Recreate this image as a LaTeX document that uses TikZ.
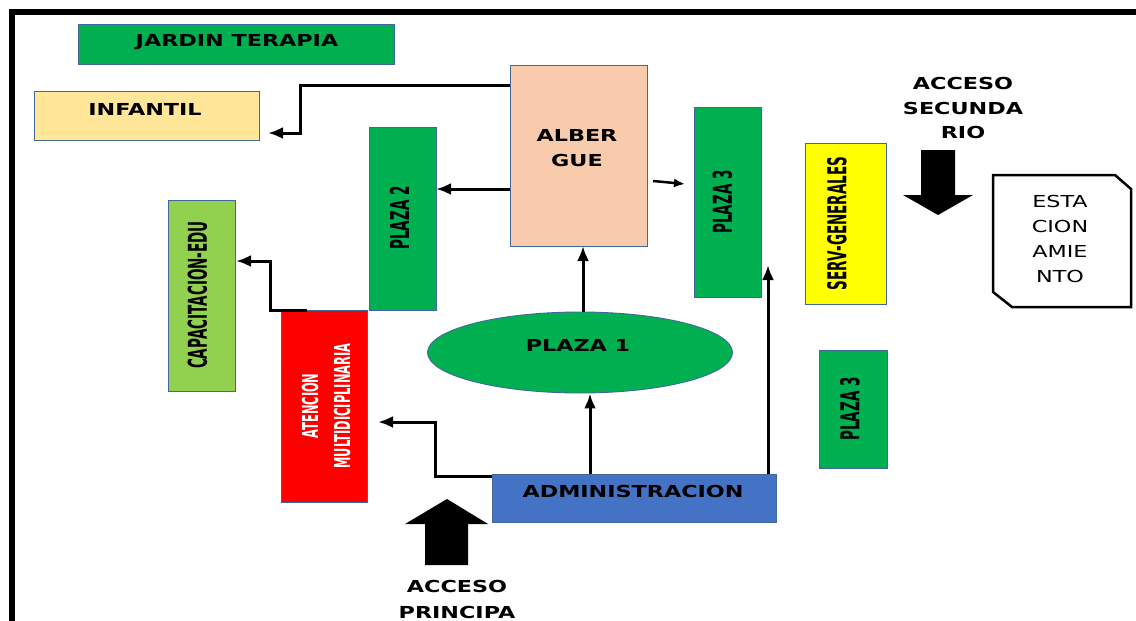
\documentclass[tikz,border=0pt]{standalone}
\usepackage{fontspec}
\setmainfont{DejaVu Sans}
\newfontfamily\widef[FakeStretch=1.35]{DejaVu Sans}
\newfontfamily\condf[FakeStretch=0.52]{DejaVu Sans}
\usetikzlibrary{arrows.meta,calc,shapes.geometric}
\definecolor{gr}{HTML}{00B050}
\definecolor{lgr}{HTML}{92D050}
\definecolor{peach}{HTML}{F8CBAD}
\definecolor{lyel}{HTML}{FFE699}
\definecolor{yel}{HTML}{FFFF00}
\definecolor{rd}{HTML}{FF0000}
\definecolor{admblue}{HTML}{4472C4}
\definecolor{bordc}{HTML}{41679E}
\begin{document}
\begin{tikzpicture}[x=1pt,y=-1pt,
  box/.style={draw=bordc,line width=0.9pt,rectangle,inner sep=0pt,outer sep=0pt},
  wl/.style={font=\widef\bfseries\fontsize{16.5}{24.5}\selectfont,align=center,inner sep=0pt},
  cl/.style={font=\condf\bfseries\fontsize{26}{32}\selectfont,rotate=90,align=center,inner sep=0pt},
  conn/.style={line width=3pt,-{Latex[length=15pt,width=12pt]}},
  bigarrow/.style={fill=black}]
\clip (0,0) rectangle (1136,621);
\fill[white] (0,0) rectangle (1136,621);
% outer border
\draw[line width=5.5pt] (12,640) -- (12,12) -- (1145,12);

% boxes
\node[box,fill=gr,minimum width=316,minimum height=40] (jar) at (236,44) {};
\node[box,fill=lyel,minimum width=225,minimum height=49] (inf) at (146.5,115.5) {};
\node[box,fill=peach,minimum width=137,minimum height=181] (alb) at (578.5,155.5) {};
\node[box,fill=gr,minimum width=67,minimum height=183] (p2) at (402.5,218.5) {};
\node[box,fill=gr,minimum width=67,minimum height=190] (p3) at (727.5,202) {};
\node[box,fill=yel,minimum width=81,minimum height=161] (serv) at (845.5,223.5) {};
\node[box,fill=lgr,minimum width=67,minimum height=191] (cap) at (201.5,295.5) {};
\node[box,fill=rd,minimum width=86,minimum height=192] (att) at (324,406) {};
\node[ellipse,draw=bordc,line width=0.9pt,fill=gr,minimum width=305,minimum height=81,inner sep=0pt] (p1) at (580,352.5) {};
\node[box,fill=admblue,minimum width=284,minimum height=48] (adm) at (634,498) {};
\node[box,fill=gr,minimum width=68,minimum height=118] (p3b) at (853,409) {};
\draw[line width=2.5pt,fill=white,line join=miter] (993,175) -- (1115,175) -- (1131,189) -- (1131,307) -- (1012,307) -- (993,292) -- cycle;

% texts
\node[wl] (jart) at (237,42) {JARDIN TERAPIA};
\node[wl] (inft) at (145,109) {INFANTIL};
\node[wl] (albt) at (577,148) {ALBER\\GUE};
\node[cl] (p2t) at (399.5,218) {PLAZA 2};
\node[cl] (p3t) at (722.5,202) {PLAZA 3};
\node[cl] (servt) at (837,223.5) {SERV-GENERALES};
\node[cl] (capt) at (197.5,295) {CAPACITACION-EDU};
\node[cl,font=\condf\bfseries\fontsize{22}{32}\selectfont,text=white] (attt) at (326,406) {ATENCION\\MULTIDICIPLINARIA};
\node[wl] (p1t) at (578,345) {PLAZA 1};
\node[wl] (admt) at (633,491) {ADMINISTRACION};
\node[cl] (p3bt) at (850,409) {PLAZA 3};
\node[wl] (acst) at (963,108) {ACCESO\\SECUNDA\\RIO};
\node[wl,font=\widef\bfseries\fontsize{16.5}{26}\selectfont] (acpt) at (457,599) {ACCESO\\PRINCIPA};
\node[wl,font=\widef\fontsize{16.5}{25}\selectfont] (estt) at (1060,238.5) {ESTA\\CION\\AMIE\\NTO};

% big access arrows
\fill[bigarrow] (921,150) -- (955,150) -- (955,195) -- (973,195) -- (938,215) -- (903,195) -- (921,195) -- cycle;
\fill[bigarrow] (425,565) -- (468,565) -- (468,524) -- (488,524) -- (447,499) -- (405,524) -- (425,524) -- cycle;

% connectors
\draw[conn,shorten >=9pt] ($(alb.north west)+(0,20)$) -| ($(inf.south east)+(41,-7)$) -- ($(inf.south east)+(0,-7)$);
\coordinate (a2) at ($(alb.west)+(0,33.5)$);
\draw[conn] (a2) -- (a2 -| p2.east);
\draw[line width=2.5pt,-{Latex[length=11pt,width=9pt]}] ($(alb.east)+(6,25.5)$) -- ($(p3.west)+(-9,-18)$);
\draw[conn] ($(p1.north)+(3,0)$) -- ($(alb.south)+(4.5,0)$);
\draw[conn] ($(adm.north)+(-44,0)$) -- ($(p1.south)+(10,0)$);
\draw[conn,shorten >=11pt] ($(adm.north west)+(0,2)$) -| ($(att.east)+(68,16)$) -- ($(att.east)+(0,16)$);
\draw[conn,shorten >=1pt] ($(att.north west)+(26,0)$) -| ($(cap.east)+(35,-34.5)$) -- ($(cap.east)+(0,-34.5)$);
\draw[conn] ($(adm.north east)+(-8,0)$) -- ($(p3.south east)+(7,-32)$);
\end{tikzpicture}
\end{document}
